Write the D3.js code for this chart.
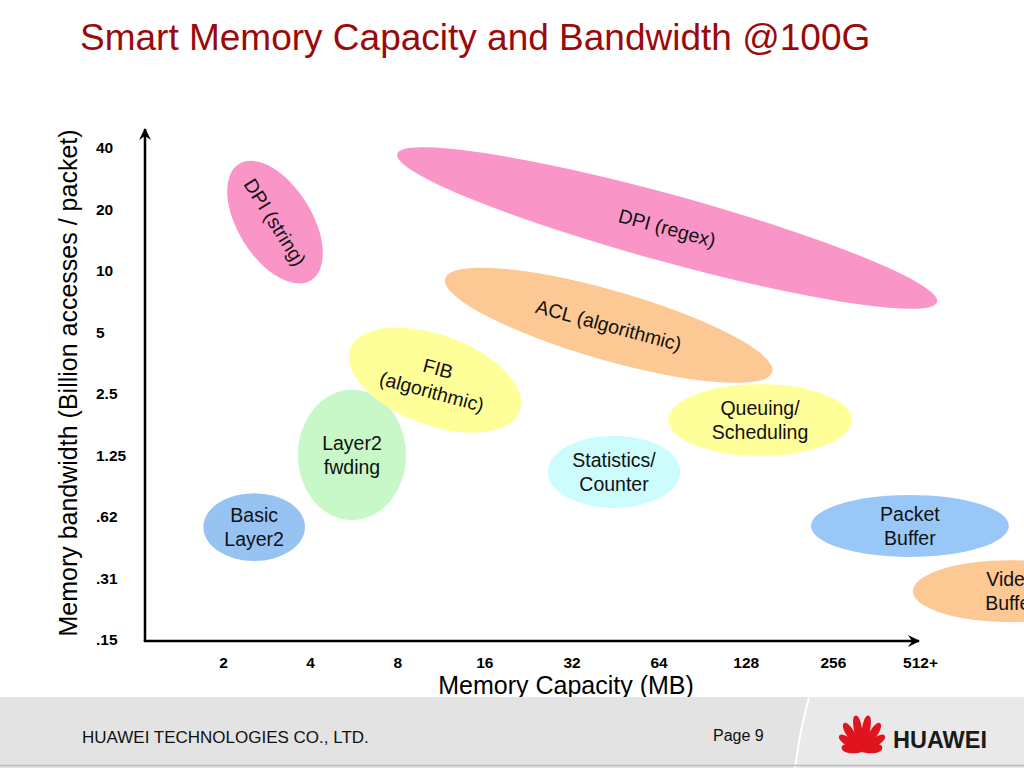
<!DOCTYPE html>
<html>
<head>
<meta charset="utf-8">
<script src="https://cdn.jsdelivr.net/npm/d3@7"></script>
<style>
  html, body { margin: 0; padding: 0; background: #fff; }
  svg { display: block; font-family: "Liberation Sans", Arial, sans-serif; }
</style>
</head>
<body>
<svg id="chart" width="1024" height="768"></svg>
<script>
// axis ticks (log2 steps)
var capTicks = [2, 4, 8, 16, 32, 64, 128, 256, 512];
var capTickLabels = ['2', '4', '8', '16', '32', '64', '128', '256', '512+'];
var bwTicks = [40, 20, 10, 5, 2.5, 1.25, 0.625, 0.3125, 0.15625];
var bwTickLabels = ['40', '20', '10', '5', '2.5', '1.25', '.62', '.31', '.15'];

// regions, drawn in this order
var regionLines = [
    ['DPI (string)'], ['DPI (regex)'], ['ACL (algorithmic)'], ['Layer2', 'fwding'],
    ['FIB', '(algorithmic)'], ['Basic', 'Layer2'], ['Statistics/', 'Counter'],
    ['Queuing/', 'Scheduling'], ['Packet', 'Buffer'], ['Video', 'Buffer']
];
// ends of each region's long axis: capacity (MB) and bandwidth
var capFrom = [2.27, 8.0, 11.7, 5.58, 5.5, 1.71, 26.5, 69, 215, 484];
var capTo = [4.03, 586, 158, 5.58, 21.2, 3.84, 76, 298, 1038, 2305];
var bwFrom = [33.4, 37.4, 9.2, 2.62, 4.15, 0.558, 1.04, 1.865, 0.565, 0.271];
var bwTo = [9.0, 7.05, 3.2, 0.604, 2.06, 0.558, 1.04, 1.865, 0.565, 0.271];
// short axis / long axis
var widthRatio = [0.54, 0.12, 0.205, 0.83, 0.5, 0.667, 0.545, 0.39, 0.313, 0.316];
var labelAngle = [58, 15, 15, 0, 15, 0, 0, 0, 0, 0];
var regionColors = ['#fa95c8', '#fa95c8', '#fcc894', '#c8f8c8', '#ffff99',
    '#97c3f3', '#ccfcfc', '#ffff99', '#99c8f8', '#fcc894'];

var svg = d3.select('#chart');
var axisLeftX = 145;

var x = d3.scaleLog().base(2).domain([2, 512]).range([223, 920]);
var y = d3.scaleLog().base(2).domain([0.15625, 40]).range([640, 148]);

// title
svg.append('text')
    .attr('x', 80).attr('y', 50)
    .style('font-size', '37px')
    .style('fill', '#9b0a0a')
    .text('Smart Memory Capacity and Bandwidth @100G');

// regions
var regions = d3.range(regionLines.length).map(function(i) {
    var x1 = x(capFrom[i]), y1 = y(bwFrom[i]);
    var x2 = x(capTo[i]), y2 = y(bwTo[i]);
    var len = Math.sqrt((x2 - x1) * (x2 - x1) + (y2 - y1) * (y2 - y1));
    return {
        lines: regionLines[i],
        cx: (x1 + x2) / 2,
        cy: (y1 + y2) / 2,
        rx: len / 2,
        ry: len / 2 * widthRatio[i],
        angle: Math.atan2(y2 - y1, x2 - x1) * 180 / Math.PI,
        textAngle: labelAngle[i],
        color: regionColors[i]
    };
});

var reg = svg.append('g').attr('class', 'regions')
    .selectAll('g.region')
    .data(regions)
  .enter().append('g')
    .attr('class', 'region');

reg.append('ellipse')
    .attr('cx', function(d) { return d.cx; })
    .attr('cy', function(d) { return d.cy; })
    .attr('rx', function(d) { return d.rx; })
    .attr('ry', function(d) { return d.ry; })
    .attr('transform', function(d) { return 'rotate(' + d.angle + ',' + d.cx + ',' + d.cy + ')'; })
    .style('fill', function(d) { return d.color; });

var lineH = 24;
reg.append('text')
    .attr('transform', function(d) { return 'translate(' + d.cx + ',' + d.cy + ') rotate(' + d.textAngle + ')'; })
    .style('font-size', '19.5px')
    .style('fill', '#111')
    .attr('text-anchor', 'middle')
    .each(function(d) {
        var t = d3.select(this);
        var n = d.lines.length;
        d.lines.forEach(function(s, k) {
            t.append('tspan')
                .attr('x', 0)
                .attr('y', (k - (n - 1) / 2) * lineH)
                .attr('dy', '0.35em')
                .text(s);
        });
    });

// arrows
var defs = svg.append('defs');
defs.append('marker')
    .attr('id', 'arrow')
    .attr('markerUnits', 'userSpaceOnUse')
    .attr('viewBox', '-12 -7 14 14')
    .attr('refX', 0).attr('refY', 0)
    .attr('markerWidth', 14).attr('markerHeight', 14)
    .attr('orient', 'auto')
  .append('path')
    .attr('d', 'M1,0L-11,-6L-7,0L-11,6Z')
    .style('fill', '#000');

var baseY = y.range()[0] + 1;
svg.append('line')
    .attr('x1', axisLeftX).attr('y1', baseY)
    .attr('x2', axisLeftX).attr('y2', y(40) - 19)
    .style('stroke', '#000').style('stroke-width', 2.5)
    .attr('marker-end', 'url(#arrow)');
svg.append('line')
    .attr('x1', axisLeftX - 1.25).attr('y1', baseY)
    .attr('x2', x(512) - 1).attr('y2', baseY)
    .style('stroke', '#000').style('stroke-width', 2.5)
    .attr('marker-end', 'url(#arrow)');

// tick labels
var yAxis = svg.append('g')
    .attr('transform', 'translate(' + axisLeftX + ',0)')
    .call(d3.axisLeft(y).tickValues(bwTicks).tickSize(0)
        .tickFormat(function(d, i) { return bwTickLabels[i]; }));
yAxis.select('.domain').remove();
yAxis.selectAll('text')
    .attr('x', -49)
    .attr('text-anchor', 'start')
    .style('font-family', '"Liberation Sans", Arial, sans-serif')
    .style('font-size', '15.5px')
    .style('font-weight', 'bold')
    .style('fill', '#000');

var xAxis = svg.append('g')
    .attr('transform', 'translate(0,' + baseY + ')')
    .call(d3.axisBottom(x).tickValues(capTicks).tickSize(0).tickPadding(16)
        .tickFormat(function(d, i) { return capTickLabels[i]; }));
xAxis.select('.domain').remove();
xAxis.selectAll('text')
    .style('font-family', '"Liberation Sans", Arial, sans-serif')
    .style('font-size', '15.5px')
    .style('font-weight', 'bold')
    .style('fill', '#000');

// axis titles
svg.append('text')
    .attr('transform', 'translate(77,383) rotate(-90)')
    .attr('text-anchor', 'middle')
    .style('font-size', '25px')
    .style('fill', '#000')
    .text('Memory bandwidth (Billion accesses / packet)');
svg.append('text')
    .attr('x', 566).attr('y', 694)
    .attr('text-anchor', 'middle')
    .style('font-size', '25px')
    .style('fill', '#000')
    .text('Memory Capacity (MB)');

// footer band
var foot = svg.append('g').attr('class', 'footer');
foot.append('rect')
    .attr('x', 0).attr('y', 697).attr('width', 1024).attr('height', 71)
    .style('fill', '#e3e3e3');
foot.append('path')
    .attr('d', 'M809,697L1024,697L1024,768L795,768Q800,730 809,697Z')
    .style('fill', '#e9e9e9');
foot.append('path')
    .attr('d', 'M809,697Q800,730 795,768')
    .style('fill', 'none').style('stroke', '#fff').style('stroke-width', 2);
foot.append('line')
    .attr('x1', 0).attr('x2', 1024).attr('y1', 765.5).attr('y2', 765.5)
    .style('stroke', '#bcbcbc').style('stroke-width', 1.5);

foot.append('text')
    .attr('x', 82).attr('y', 743)
    .style('font-size', '17px')
    .style('fill', '#111')
    .text('HUAWEI TECHNOLOGIES CO., LTD.');
foot.append('text')
    .attr('x', 713).attr('y', 741)
    .style('font-size', '16px')
    .style('fill', '#111')
    .text('Page 9');

// logo
var logo = foot.append('g').attr('transform', 'translate(862,752)');
var petalAngles = [-76, -54, -32, -10, 10, 32, 54, 76];
var petalLen = [21, 28, 34, 37, 37, 34, 28, 21];
logo.selectAll('path')
    .data(petalAngles)
  .enter().append('path')
    .attr('transform', function(a) { return 'rotate(' + a + ')'; })
    .attr('d', function(a, i) {
        var L = petalLen[i], w = 5.5;
        return 'M0,0C' + w + ',' + (-L * 0.4) + ' ' + w + ',' + (-L) + ' 0,' + (-L) +
            'C' + (-w) + ',' + (-L) + ' ' + (-w) + ',' + (-L * 0.4) + ' 0,0Z';
    })
    .style('fill', '#e0141e');
foot.append('text')
    .attr('x', 893).attr('y', 748)
    .style('font-size', '23.5px')
    .style('font-weight', 'bold')
    .style('fill', '#1a1a1a')
    .text('HUAWEI');
</script>
</body>
</html>
